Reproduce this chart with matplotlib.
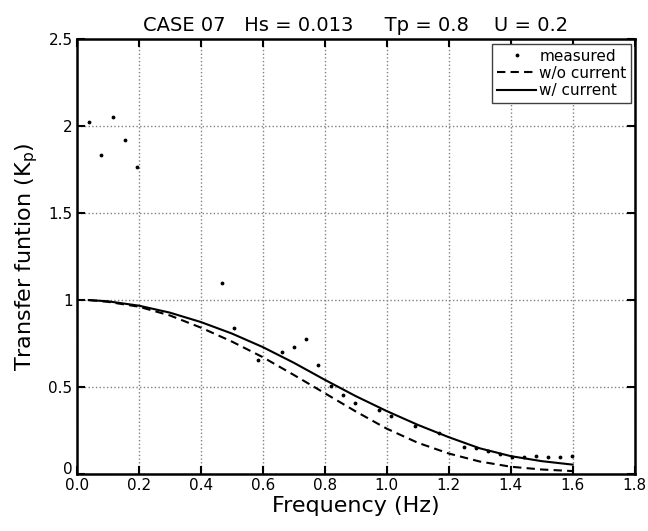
import numpy as np
import matplotlib
matplotlib.use("Agg")
import matplotlib.pyplot as plt
import matplotlib.transforms as mtrans

# measured transfer function points
f_meas = [0.039, 0.078, 0.117, 0.156, 0.195, 0.468, 0.507, 0.585, 0.663, 0.702,
          0.741, 0.780, 0.819, 0.858, 0.897, 0.975, 1.014, 1.092, 1.170, 1.248,
          1.287, 1.326, 1.365, 1.404, 1.443, 1.482, 1.521, 1.560, 1.599]
kp_meas = [2.026, 1.833, 2.055, 1.921, 1.765, 1.099, 0.842, 0.655, 0.701, 0.729,
           0.777, 0.624, 0.505, 0.454, 0.411, 0.37, 0.333, 0.276, 0.237, 0.156,
           0.147, 0.133, 0.116, 0.099, 0.099, 0.103, 0.097, 0.099, 0.103]

# theory curves
f_th = [0.039, 0.1, 0.2, 0.3, 0.4, 0.5, 0.6, 0.7, 0.8, 0.9,
        1.0, 1.1, 1.2, 1.3, 1.4, 1.5, 1.6]
kp_nocur = [1.0, 0.99, 0.962, 0.912, 0.842, 0.762, 0.672, 0.57, 0.465, 0.36,
            0.261, 0.18, 0.118, 0.072, 0.042, 0.026, 0.017]
kp_cur = [1.0, 0.993, 0.968, 0.928, 0.874, 0.808, 0.730, 0.640, 0.542, 0.448,
          0.362, 0.283, 0.212, 0.148, 0.103, 0.074, 0.054]

xticks = [0.0, 0.2, 0.4, 0.6, 0.8, 1.0, 1.2, 1.4, 1.6, 1.8]
yticks = [0, 0.5, 1, 1.5, 2, 2.5]
ytick_labels = ['0', '0.5', '1', '1.5', '2', '2.5']

plt.rcParams['font.family'] = ['DejaVu Sans']

fig = plt.figure(figsize=(6.48, 5.31), dpi=100)
ax = fig.add_axes([0.1184, 0.1073, 0.861, 0.819])

ax.plot(f_meas, kp_meas, '.', color='k', markersize=3.5, label='measured')
ax.plot(f_th, kp_nocur, color='k', lw=1.5, ls=(0, (4, 2.5)), label='w/o current')
ax.plot(f_th, kp_cur, color='k', lw=1.5, label='w/ current')

ax.set_xlim(0, 1.8)
ax.set_ylim(0, 2.5)
ax.set_xticks(xticks)
ax.set_xticklabels(['%.1f' % t for t in xticks])
ax.set_yticks(yticks)
ax.set_yticklabels(ytick_labels)
ax.tick_params(direction='in', length=6, width=1.5, top=True, right=True,
               labelsize=11, pad=3)
ax.grid(True, ls=':', color='#808080', lw=1)
for s in ax.spines.values():
    s.set_linewidth(1.8)

# the '0' on the y axis sits a bit higher so it clears the '0.0' below
lab0 = ax.get_yticklabels()[0]
lab0.set_transform(lab0.get_transform() +
                   mtrans.ScaledTranslation(0, 4 / 72, fig.dpi_scale_trans))

ax.set_xlabel('Frequency (Hz)', fontsize=16, labelpad=2)
ax.set_ylabel('Transfer funtion (K$_\\mathregular{p}$)', fontsize=16, labelpad=6)
ax.set_title('CASE 07   Hs = 0.013     Tp = 0.8    U = 0.2', fontsize=14, pad=6)

leg = ax.legend(loc='upper right', bbox_to_anchor=(0.994, 0.989), borderaxespad=0,
                fontsize=11, fancybox=False, framealpha=1, edgecolor='#404040',
                handlelength=2.6, handletextpad=0.2, labelspacing=0.15,
                borderpad=0.3)
leg.get_frame().set_linewidth(1.0)

fig.savefig('out.png', dpi=100)
